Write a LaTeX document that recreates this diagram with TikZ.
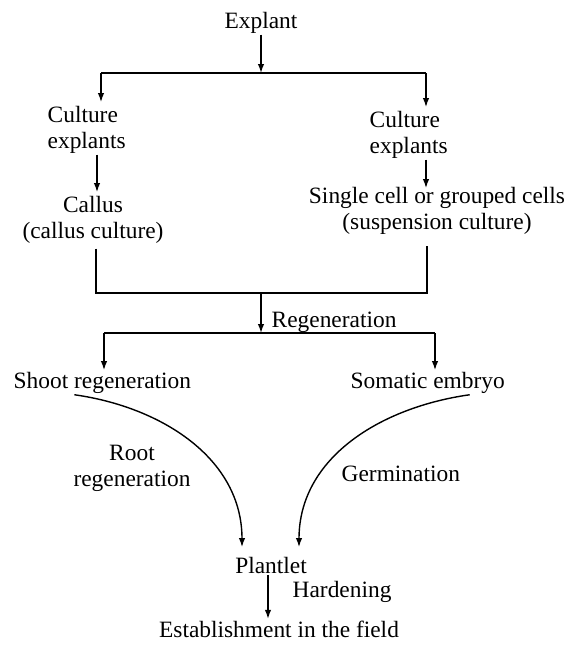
\documentclass[tikz,border=0pt]{standalone}
\usepackage{fontspec}
\setmainfont{Liberation Serif}
\usetikzlibrary{arrows.meta}

\begin{document}
\begin{tikzpicture}[
      x=1pt, y=1pt,
      txt/.style = {font=\fontsize{23.4}{26}\selectfont, inner sep=1.5pt},
      link/.style = {line width=1.4pt},
      >={Latex[length=9pt,width=6.5pt]}
    ]
    \useasboundingbox (0,0) rectangle (566,-645);

    % stages (base = last line)
    \node[txt, anchor=base] (explant) at (261,-28) {Explant};
    \node[txt, anchor=base west, align=left] (cultL) at (46,-148) {Culture\\explants};
    \node[txt, anchor=base west, align=left] (cultR) at (368,-153) {Culture\\explants};
    \node[txt, anchor=base, align=center] (callus) at (93,-238) {Callus\\(callus culture)};
    \node[txt, anchor=base, align=center] (single) at (437,-229) {Single cell or grouped cells\\(suspension culture)};
    \node[txt, anchor=base west] (shoot) at (12,-388) {Shoot regeneration};
    \node[txt, anchor=base west] (somatic) at (349,-388) {Somatic embryo};
    \node[txt, anchor=base] (plantlet) at (271,-573) {Plantlet};
    \node[txt, anchor=base] (field) at (279,-637) {Establishment in the field};

    % labels
    \node[txt, anchor=base west] (regen) at (270,-327) {Regeneration};
    \node[txt, anchor=base, align=center] (root) at (132,-486) {Root\\regeneration};
    \node[txt, anchor=base west] (germ) at (340,-481) {Germination};
    \node[txt, anchor=base west] (harden) at (291,-597) {Hardening};

    \coordinate (busL)  at (101,-73);
    \coordinate (busR)  at (426,-73);
    \coordinate (mergeL) at (96,-293);
    \coordinate (mergeR) at (427,-293);
    \coordinate (bus2L) at (104,-333);
    \coordinate (bus2R) at (435,-333);

    \draw[link, ->] (explant) -- (explant |- busL);
    \draw[link] (busL) -- (busR);
    \foreach \b/\n in {busL/cultL, busR/cultR}{
      \draw[link, ->] (\b) -- ([yshift=2pt]\b |- \n.north);
    }

    \draw[link, ->] (cultL.south -| 97,0) -- ([yshift=2pt]callus.north -| 97,0);
    \draw[link, ->] (busR |- cultR.south) -- ([yshift=-3pt]busR |- single.north);

    \draw[link] ([yshift=-4pt]callus.south -| mergeL) -- (mergeL) -- (mergeR) -- ([yshift=-10pt]single.south -| mergeR);
    \draw[link, ->] (mergeL -| explant) -- (bus2L -| explant);

    \draw[link] (bus2L) -- (bus2R);
    \foreach \b/\n in {bus2L/shoot, bus2R/somatic}{
      \draw[link, ->] (\b) -- (\b |- \n.north);
    }

    \draw[link, ->] ([xshift=-28pt]shoot.south) to[out=-8, in=90] ([xshift=-29pt,yshift=8pt]plantlet.north);
    \draw[link, ->] ([xshift=42pt]somatic.south) to[out=188, in=90] ([xshift=28pt,yshift=8pt]plantlet.north);

    \draw[link, ->] ([xshift=-3pt]plantlet.south) -- ([xshift=-3pt]plantlet.south |- field.north);
  \end{tikzpicture}
\end{document}
